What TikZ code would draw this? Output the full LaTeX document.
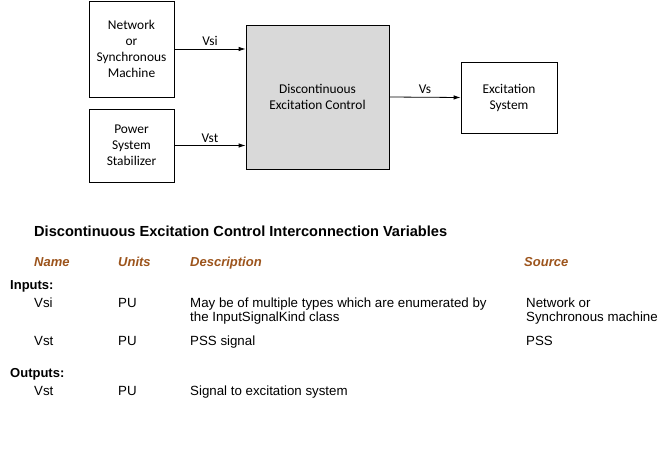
\documentclass[tikz,border=0pt]{standalone}
\usepackage{fontspec}
\setmainfont{Liberation Sans}
\newfontfamily\diagfont{Carlito}
\usetikzlibrary{arrows.meta}
\definecolor{hdrbrown}{RGB}{156,84,28}
\definecolor{boxgray}{RGB}{217,217,217}
\tikzset{
  blk/.style={draw,line width=0.8pt,align=center,inner sep=0pt,
    font=\diagfont\fontsize{13.4}{16}\selectfont},
  sig/.style={line width=0.8pt,-{Latex[length=7pt,width=4.5pt]}},
  lbl/.style={font=\diagfont\fontsize{13.4}{16}\selectfont,above,inner sep=3pt},
  txt/.style={anchor=base west,inner sep=0pt,font=\fontsize{13.3}{14}\selectfont},
  hdr/.style={txt,font=\fontsize{13}{14}\selectfont\bfseries\itshape,text=hdrbrown}
}
\begin{document}
\begin{tikzpicture}[x=1pt,y=-1pt]
\useasboundingbox (0,0) rectangle (668,454);

      \node[blk,minimum width=85pt,minimum height=96pt] (Net) at (131.5,49) {Network\\or\\Synchronous\\Machine};
      \node[blk,minimum width=85pt,minimum height=73pt] (PSS) at (131.5,145.5) {Power\\System\\Stabilizer};
      \node[blk,fill=boxgray,minimum width=143pt,minimum height=144pt] (DEC) at (317.5,97) {Discontinuous\\Excitation Control};
      \node[blk,minimum width=96pt,minimum height=71pt] (Exc) at (509,97.5) {Excitation\\System};

\draw[sig] (Net) -- (Net -| DEC.west) node[lbl,midway] {Vsi};
\draw[sig] (PSS) -- (PSS -| DEC.west) node[lbl,midway] {Vst};
\draw[sig] (DEC.east) -- (Exc.west) node[lbl,midway] {Vs};

% interconnection table
\node[txt,font=\fontsize{14.6}{16}\selectfont\bfseries] (title) at (34,236) {Discontinuous Excitation Control Interconnection Variables};
\node[hdr] (hName) at (34,266.5) {Name};
\node[hdr] (hUnits) at (118,266.5) {Units};
\node[hdr] (hDesc) at (190,266.5) {Description};
\node[hdr] (hSrc) at (524,266.5) {Source};

\node[txt,font=\fontsize{13}{14}\selectfont\bfseries] (inputs) at (10,289) {Inputs:};
\node[txt] (vsiN) at (34,307) {Vsi};
\node[txt] (vsiU) at (118,307) {PU};
\node[txt] (vsiD) at (190,307) {May be of multiple types which are enumerated by};
\node[txt] (vsiD2) at (190,321.5) {the InputSignalKind class};
\node[txt] (vsiS) at (526,307) {Network or};
\node[txt] (vsiS2) at (526,321.5) {Synchronous machine};

\node[txt] (vstN) at (34,345) {Vst};
\node[txt] (vstU) at (118,345) {PU};
\node[txt] (vstD) at (190,345) {PSS signal};
\node[txt] (vstS) at (526,345) {PSS};

\node[txt,font=\fontsize{13}{14}\selectfont\bfseries] (outputs) at (10,377) {Outputs:};
\node[txt] (outN) at (34,395) {Vst};
\node[txt] (outU) at (118,395) {PU};
\node[txt] (outD) at (190,395) {Signal to excitation system};
\end{tikzpicture}
\end{document}
